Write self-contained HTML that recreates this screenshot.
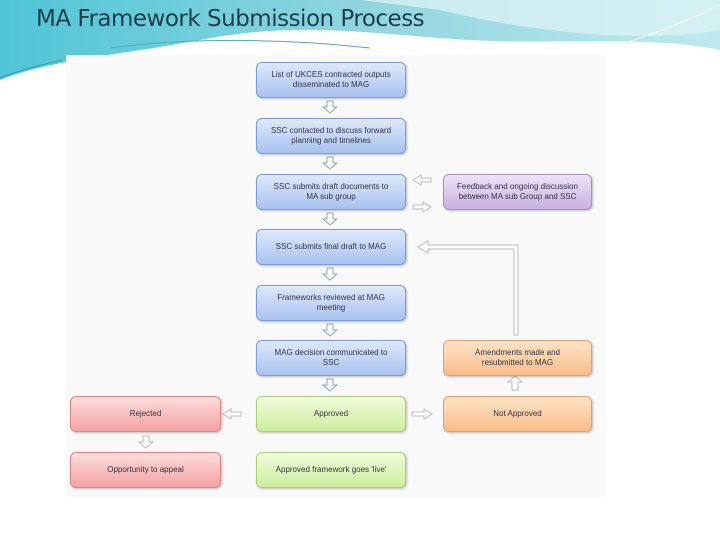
<!DOCTYPE html>
<html><head><style>
body{margin:0;width:720px;height:540px;overflow:hidden;background:#fff;font-family:"Liberation Sans",sans-serif;position:relative}
.b{position:absolute;box-sizing:border-box;border-radius:6px;display:flex;align-items:center;justify-content:center;text-align:center;font-size:8px;line-height:10px;color:#334;padding:0 10px;box-shadow:1px 1px 2px rgba(0,0,0,.25)}
.bl{background:linear-gradient(#dde8fb,#a9c3f0);border:1px solid #7f9bd0}
.pu{background:linear-gradient(#eee3f6,#c9b0e2);border:1px solid #a98fc8}
.or{background:linear-gradient(#fde3c8,#f9bd87);border:1px solid #e3a06a}
.gr{background:linear-gradient(#f2fbdc,#cdee9c);border:1px solid #a9cf78}
.rd{background:linear-gradient(#fcdcdc,#f5a3a3);border:1px solid #d98686}
.t{position:absolute;left:36px;top:6px;font-size:23px;color:#1d3d4a;font-family:"DejaVu Sans","Liberation Sans",sans-serif;letter-spacing:-0.5px}
</style></head><body>
<svg width="720" height="540" style="position:absolute;left:0;top:0">
<defs><linearGradient id="g" x1="0" y1="0" x2="1" y2="0"><stop offset="0" stop-color="#4fc5d6"/><stop offset=".5" stop-color="#8fd5e0"/><stop offset="1" stop-color="#bfe9ef"/></linearGradient></defs>
<path d="M0 0H720V50C650 35 560 45 470 40C380 35 300 20 200 40C120 55 50 60 0 80Z" fill="url(#g)"/>
<path d="M360 0H720V30C640 45 520 30 440 10Z" fill="#d8f1f4" opacity=".8"/>
<path d="M110 48C200 36 300 40 370 48" stroke="#5aa" fill="none" stroke-width="1"/>
<path d="M0 78C20 70 40 65 62 60" stroke="#39a" fill="none"/>
<path d="M600 50C640 40 690 20 720 5" stroke="#fff" fill="none"/>
<rect x="66" y="55" width="540" height="442" fill="#f9f9f9"/>
<g fill="#fff" stroke="#8aa" stroke-width="1">
<path d="M327 101h6v6h4l-7 6-7-6h4z"/><path d="M327 157h6v6h4l-7 6-7-6h4z"/><path d="M327 213h6v6h4l-7 6-7-6h4z"/><path d="M327 268h6v6h4l-7 6-7-6h4z"/><path d="M327 324h6v6h4l-7 6-7-6h4z"/><path d="M327 379h6v6h4l-7 6-7-6h4z"/>
<path d="M143 436h6v6h4l-7 6-7-6h4z" stroke="#bbb"/>
<path d="M515 376l7 6h-4v8h-6v-8h-4z" stroke="#bbb"/>
<path d="M413 180l8-5v3h10v4h-10v3z" stroke="#bbb"/>
<path d="M413 205h10v-3l8 5-8 5v-3h-10z" stroke="#bbb"/>
<path d="M223 414l8-5v3h10v4h-10v3z" stroke="#bbb"/>
<path d="M412 412h12v-3l8 5-8 5v-3h-12z" stroke="#bbb"/>
<path d="M418 247l10-6v4h90v90h-4v-86h-86v4z" stroke="#bbb"/>
</g>
</svg>
<div class="t">MA Framework Submission Process</div>
<div class="b bl" style="left:256px;top:62px;width:150px;height:36px">List of UKCES contracted outputs disseminated to MAG</div>
<div class="b bl" style="left:256px;top:118px;width:150px;height:36px">SSC contacted to discuss forward planning and timelines</div>
<div class="b bl" style="left:256px;top:174px;width:150px;height:36px">SSC submits draft documents to MA sub group</div>
<div class="b bl" style="left:256px;top:229px;width:150px;height:36px">SSC submits final draft to MAG</div>
<div class="b bl" style="left:256px;top:285px;width:150px;height:36px">Frameworks reviewed at MAG meeting</div>
<div class="b bl" style="left:256px;top:340px;width:150px;height:36px">MAG decision communicated to SSC</div>
<div class="b gr" style="left:256px;top:396px;width:150px;height:36px">Approved</div>
<div class="b gr" style="left:256px;top:452px;width:150px;height:36px">Approved framework goes 'live'</div>
<div class="b pu" style="left:443px;top:174px;width:149px;height:36px">Feedback and ongoing discussion between MA sub Group and SSC</div>
<div class="b or" style="left:443px;top:340px;width:149px;height:36px">Amendments made and resubmitted to MAG</div>
<div class="b or" style="left:443px;top:396px;width:149px;height:36px">Not Approved</div>
<div class="b rd" style="left:70px;top:396px;width:151px;height:36px">Rejected</div>
<div class="b rd" style="left:70px;top:452px;width:151px;height:36px">Opportunity to appeal</div>
</body></html>
